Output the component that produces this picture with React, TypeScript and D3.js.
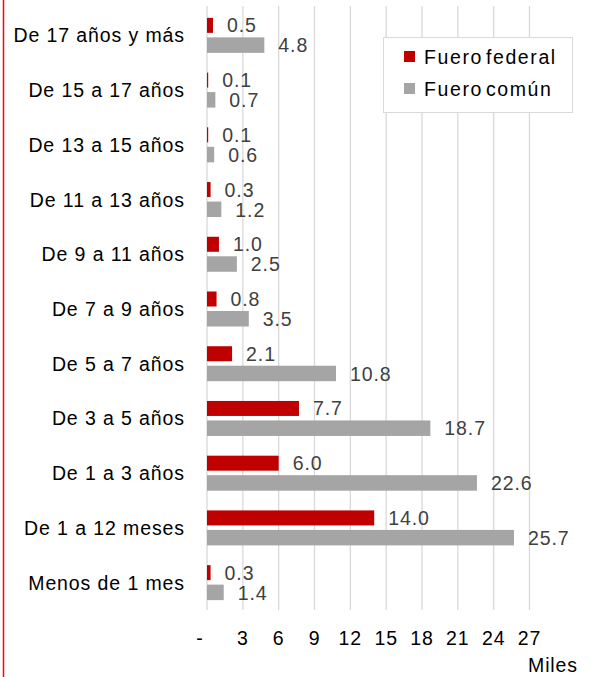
import React from "react";
import * as d3 from "d3";

const categories = [
  "De 17 años y más",
  "De 15 a 17 años",
  "De 13 a 15 años",
  "De 11 a 13 años",
  "De 9 a 11 años",
  "De 7 a 9 años",
  "De 5 a 7 años",
  "De 3 a 5 años",
  "De 1 a 3 años",
  "De 1 a 12 meses",
  "Menos de 1 mes",
];
const fueroFederal = [0.5, 0.1, 0.1, 0.3, 1.0, 0.8, 2.1, 7.7, 6.0, 14.0, 0.3];
const fueroComun = [4.8, 0.7, 0.6, 1.2, 2.5, 3.5, 10.8, 18.7, 22.6, 25.7, 1.4];
const ticks = [0, 3, 6, 9, 12, 15, 18, 21, 24, 27];
const seriesNames = ["Fuero federal", "Fuero común"];
const colors = ["#C00000", "#A5A5A5"];

const W = 591;
const H = 677;
const FONT = "'Liberation Sans', Arial, sans-serif";
const FS = 19.5;
const LS = 0.9;

export default function App() {
  const x = d3.scaleLinear().domain([0, 27]).range([207, 529.5]);
  const y = d3.scaleBand<string>().domain(categories).range([8, 610]).padding(0);
  const fmt = (v: number) => (v === 0 ? "-" : String(v));
  return (
    <div style={{ position: "absolute", left: 0, top: 0 }}>
      <svg width={W} height={H} style={{ display: "block", fontFamily: FONT }}>
        <rect x={0} y={0} width={W} height={H} fill="#fff" />
        <line x1={3.5} x2={3.5} y1={0} y2={H} stroke="#FF0000" strokeWidth={1.5} />
        {ticks.map((t) => (
          <line key={"g" + t} x1={x(t)} x2={x(t)} y1={6} y2={610} stroke="#D9D9D9" strokeWidth={1.3} />
        ))}
        {ticks.map((t) => (
          <text
            key={"t" + t}
            x={x(t) + (t === 0 ? -7 : 0)}
            y={638}
            textAnchor="middle"
            dominantBaseline="central"
            fontSize={FS}
            letterSpacing={LS}
            fill="#000"
          >
            {fmt(t)}
          </text>
        ))}
        <text x={578} y={665} textAnchor="end" dominantBaseline="central" fontSize={FS} letterSpacing={LS} fill="#000">
          Miles
        </text>
        {categories.map((c, i) => {
          const cy = (y(c) as number) + y.bandwidth() / 2;
          const f = fueroFederal[i];
          const g = fueroComun[i];
          return (
            <g key={c}>
              <text x={185} y={cy} textAnchor="end" dominantBaseline="central" fontSize={FS} letterSpacing={LS} fill="#000">
                {c}
              </text>
              <rect x={x(0)} y={cy - 17.5} width={x(f) - x(0)} height={15} fill={colors[0]} />
              <rect x={x(0)} y={cy + 2} width={x(g) - x(0)} height={15.5} fill={colors[1]} />
              <text x={x(f) + 14} y={cy - 10} dominantBaseline="central" fontSize={FS} letterSpacing={LS} fill="#404040">
                {f.toFixed(1)}
              </text>
              <text x={x(g) + 14} y={cy + 10} dominantBaseline="central" fontSize={FS} letterSpacing={LS} fill="#404040">
                {g.toFixed(1)}
              </text>
            </g>
          );
        })}
        <rect x={383.5} y={37.5} width={189} height={75} fill="#fff" stroke="#D9D9D9" strokeWidth={1} />
        {seriesNames.map((s, i) => (
          <g key={s}>
            <rect x={404} y={51 + i * 32} width={11} height={11} fill={colors[i]} />
            <text
              x={424}
              y={57 + i * 32}
              dominantBaseline="central"
              fontSize={FS}
              letterSpacing={1.6}
              wordSpacing={-4}
              fill="#000"
            >
              {s}
            </text>
          </g>
        ))}
      </svg>
    </div>
  );
}
